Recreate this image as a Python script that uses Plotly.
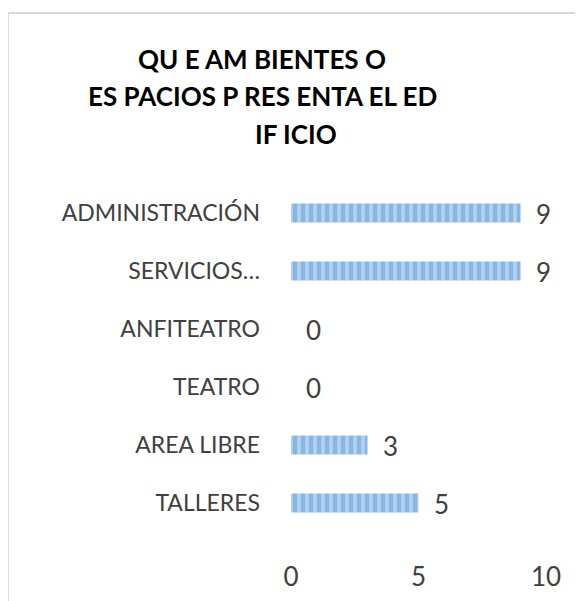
import plotly.graph_objects as go

categories = ["TALLERES", "AREA LIBRE", "TEATRO", "ANFITEATRO", "SERVICIOS…", "ADMINISTRACIÓN"]
values = [5, 3, 0, 0, 9, 9]
title_lines = ["QU E AM BIENTES O", "ES PACIOS P RES ENTA EL ED", "IF ICIO"]
x_ticks = [0, 5, 10]

OFF = 8  # page body margin
W, H = 583 - OFF, 601 - OFF
L, R, T, B = 291 - OFF, 37, 184 - OFF, 69
pw, ph = W - L - R, H - T - B

def px_x(p):  # reference screenshot pixel -> paper
    return (p - OFF - L) / pw

def px_y(p):
    return (H - B - (p - OFF)) / ph

FONT = "Lato, Calibri, sans-serif"

fig = go.Figure()
fig.add_trace(go.Bar(
    x=values, y=categories, orientation="h", width=0.33,
    marker=dict(color="#B3D0EE", line=dict(width=0),
                pattern=dict(shape="|", fgcolor="#5B9BD5", bgcolor="#B3D0EE",
                             size=8, solidity=0.55)),
    hoverinfo="x+y",
))

annotations = []
for c, v in zip(categories, values):
    annotations.append(dict(x=v, y=c, xref="x", yref="y", text=str(v),
                            showarrow=False, xanchor="left", yanchor="middle",
                            xshift=13, yshift=-1,
                            font=dict(family=FONT, size=26, color="#404040")))

title_cx = [262, 262, 296]
title_cy = [59, 96, 134]
for t, cx, cy in zip(title_lines, title_cx, title_cy):
    annotations.append(dict(x=px_x(cx), y=px_y(cy), xref="paper", yref="paper",
                            text="<b>" + t + "</b>", showarrow=False,
                            xanchor="center", yanchor="middle",
                            font=dict(family=FONT, size=26, color="#000000")))

fig.update_layout(
    width=W, height=H,
    margin=dict(l=L, r=R, t=T, b=B, autoexpand=False),
    paper_bgcolor="white", plot_bgcolor="white",
    showlegend=False,
    annotations=annotations,
    shapes=[dict(type="rect", xref="paper", yref="paper",
                 x0=px_x(8), x1=px_x(700), y0=px_y(700), y1=px_y(13),
                 line=dict(color="#D9D9D9", width=2), layer="below")],
    xaxis=dict(range=[0, 10], tickvals=x_ticks, showgrid=False, zeroline=False,
               showline=False, ticks="", ticklabelstandoff=27,
               tickfont=dict(family=FONT, size=26, color="#404040"), fixedrange=True),
    yaxis=dict(type="category", categoryorder="array", categoryarray=categories,
               range=[-0.5, 5.5], showgrid=False, zeroline=False, showline=False,
               ticks="", ticklabelstandoff=30,
               tickfont=dict(family=FONT, size=23, color="#404040"), fixedrange=True),
)

fig.write_html("out.html")
